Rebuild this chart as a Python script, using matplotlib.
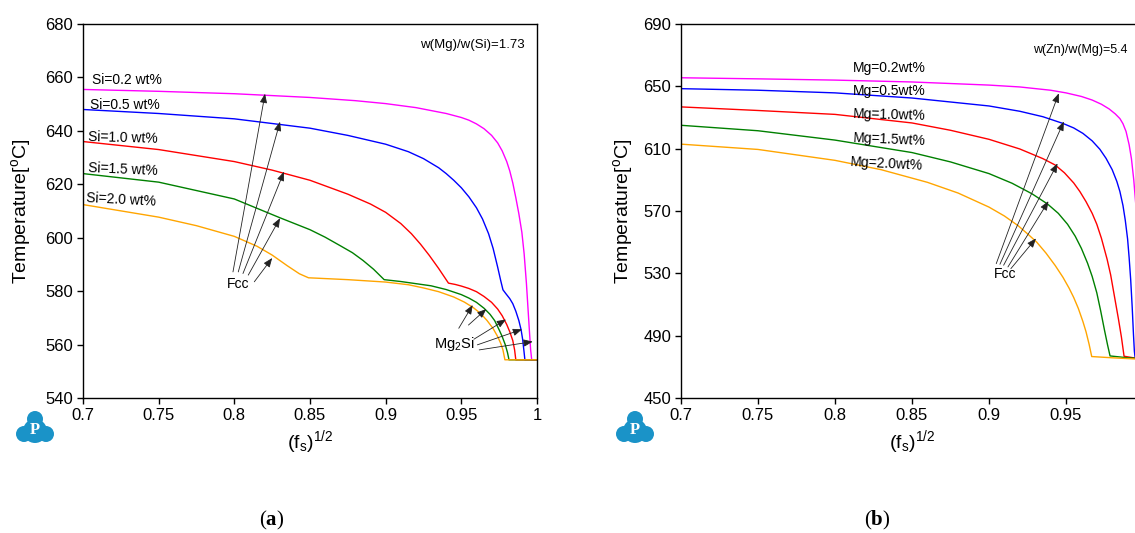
import matplotlib
matplotlib.use("Agg")
import matplotlib.pyplot as plt
from matplotlib.patches import Circle
from matplotlib.ticker import FormatStrFormatter

plt.rcParams['font.family'] = ['Liberation Sans', 'DejaVu Sans']
plt.rcParams['mathtext.default'] = 'regular'
plt.rcParams['mathtext.fontset'] = 'custom'
plt.rcParams['mathtext.bf'] = 'Liberation Serif:bold'

# ---- (a) Al-Mg-Si, w(Mg)/w(Si)=1.73 ----
a_si02_x = [0.70, 0.75, 0.80, 0.85, 0.88, 0.90, 0.92, 0.94, 0.95, 0.955, 0.96, 0.965, 0.97,
            0.974, 0.977, 0.980, 0.982, 0.984, 0.986, 0.988, 0.990, 0.9915, 0.993, 0.994,
            0.995, 0.9958, 0.9965, 1.0]
a_si02_y = [655.5, 654.8, 653.9, 652.5, 651.3, 650.2, 648.7, 646.5, 645.0, 644.0, 642.6, 640.8,
            638.3, 635.5, 632.5, 628.5, 625.0, 620.5, 615.0, 609.0, 602.0, 594.0, 583.0, 574.0,
            565.0, 558.0, 554.3, 554.3]

a_si05_x = [0.70, 0.75, 0.80, 0.85, 0.875, 0.90, 0.915, 0.925, 0.935, 0.94, 0.945, 0.95, 0.955,
            0.96, 0.964, 0.968, 0.971, 0.974, 0.976, 0.9775, 0.9795, 0.982, 0.984, 0.986,
            0.988, 0.9895, 0.9905, 0.9913, 0.992, 1.0]
a_si05_y = [648.0, 646.5, 644.5, 641.0, 638.3, 635.0, 632.2, 629.6, 626.2, 624.0, 621.5, 618.7,
            615.3, 611.2, 607.0, 601.5, 596.0, 589.0, 584.0, 580.5, 579.0, 577.2, 575.3, 572.5,
            569.0, 565.5, 562.0, 558.0, 554.3, 554.3]

a_si10_x = [0.70, 0.75, 0.80, 0.825, 0.85, 0.875, 0.89, 0.90, 0.91, 0.917, 0.923, 0.9288,
            0.935, 0.9415, 0.946, 0.95, 0.955, 0.96, 0.965, 0.97, 0.974, 0.977, 0.980, 0.982,
            0.984, 0.9852, 0.986, 1.0]
a_si10_y = [636.0, 633.0, 628.5, 625.3, 621.5, 616.3, 612.6, 609.5, 605.3, 601.5, 597.6, 593.4,
            588.5, 583.0, 582.5, 581.9, 581.0, 579.8, 578.0, 575.8, 573.3, 570.8, 567.5, 564.8,
            561.5, 558.0, 554.3, 554.3]

a_si15_x = [0.70, 0.75, 0.80, 0.83, 0.85, 0.86, 0.87, 0.878, 0.885, 0.892, 0.899, 0.91, 0.93,
            0.94, 0.95, 0.955, 0.96, 0.965, 0.969, 0.972, 0.975, 0.977, 0.979, 0.9805, 0.9815, 1.0]
a_si15_y = [624.0, 620.8, 614.5, 607.5, 603.0, 600.2, 597.0, 594.4, 591.5, 588.2, 584.3, 583.6,
            582.0, 580.6, 578.7, 577.4, 575.8, 573.6, 571.3, 569.0, 565.5, 563.0, 560.0, 557.0,
            554.3, 554.3]

a_si20_x = [0.70, 0.75, 0.775, 0.80, 0.815, 0.825, 0.835, 0.843, 0.849, 0.875, 0.90, 0.915,
            0.925, 0.935, 0.945, 0.952, 0.958, 0.963, 0.967, 0.971, 0.974, 0.976, 0.9775,
            0.9788, 1.0]
a_si20_y = [612.4, 607.7, 604.5, 600.5, 596.8, 593.5, 589.5, 586.5, 585.0, 584.3, 583.4, 582.4,
            581.2, 579.8, 577.8, 575.9, 573.8, 571.5, 569.0, 566.0, 563.0, 560.5, 558.0,
            554.3, 554.3]

a_labels = ['Si=0.2 wt%', 'Si=0.5 wt%', 'Si=1.0 wt%', 'Si=1.5 wt%', 'Si=2.0 wt%']
a_label_xy = [(0.7059, 658.9), (0.7045, 649.7), (0.7030, 637.5), (0.7030, 625.7), (0.7018, 614.2)]
a_fcc_tails = [(0.7991, 587.2), (0.8026, 587.2), (0.8057, 586.6), (0.8092, 586.0), (0.8132, 583.5)]
a_fcc_heads = [(0.8203, 653.9), (0.8302, 643.4), (0.8328, 624.7), (0.8302, 607.3), (0.8250, 592.4)]
a_mg2si_tails = [(0.9618, 558.0), (0.9606, 559.9), (0.9583, 562.0), (0.9547, 567.3), (0.9483, 566.1)]
a_mg2si_heads = [(0.9972, 561.1), (0.9901, 565.7), (0.9795, 569.4), (0.9665, 573.3), (0.9575, 574.8)]

# ---- (b) Al-Zn-Mg, w(Zn)/w(Mg)=5.4 ----
b_mg02_x = [0.70, 0.75, 0.80, 0.85, 0.90, 0.92, 0.94, 0.95, 0.96, 0.967, 0.973, 0.978, 0.982,
            0.985, 0.987, 0.989, 0.991, 0.9925, 0.994, 0.9955, 0.997, 0.998, 0.9988, 0.9992, 1.0]
b_mg02_y = [655.5, 654.8, 654.0, 652.8, 650.8, 649.6, 647.5, 645.8, 643.5, 641.2, 638.5, 635.5,
            632.3, 629.3, 626.0, 621.0, 612.5, 603.5, 590.0, 572.0, 545.0, 515.0, 485.0,
            476.5, 475.5]

b_mg05_x = [0.70, 0.75, 0.80, 0.85, 0.90, 0.92, 0.935, 0.948, 0.955, 0.961, 0.967, 0.972,
            0.976, 0.980, 0.983, 0.985, 0.987, 0.9885, 0.990, 0.991, 0.992, 0.993, 0.9938,
            0.9944, 0.9948, 1.0]
b_mg05_y = [648.5, 647.5, 645.8, 642.5, 637.4, 634.0, 630.5, 626.2, 623.3, 619.8, 615.0, 609.6,
            603.8, 596.5, 589.0, 582.5, 573.5, 564.0, 552.0, 540.0, 526.0, 508.0, 491.0,
            480.0, 476.5, 475.2]

b_mg10_x = [0.70, 0.75, 0.80, 0.85, 0.875, 0.90, 0.92, 0.935, 0.943, 0.949, 0.955, 0.959,
            0.963, 0.967, 0.970, 0.973, 0.9767, 0.979, 0.9815, 0.984, 0.986, 0.9877, 0.995, 1.0]
b_mg10_y = [636.8, 634.5, 632.0, 626.5, 621.8, 616.0, 609.8, 603.6, 599.5, 594.5, 588.0, 582.5,
            576.0, 568.5, 561.5, 552.5, 539.0, 529.0, 515.0, 501.0, 489.0, 476.8, 475.6, 475.3]

b_mg15_x = [0.70, 0.75, 0.80, 0.85, 0.875, 0.90, 0.915, 0.928, 0.938, 0.945, 0.951, 0.956,
            0.960, 0.964, 0.967, 0.970, 0.9725, 0.975, 0.977, 0.9786, 0.99, 1.0]
b_mg15_y = [625.0, 621.5, 615.5, 607.5, 601.5, 594.0, 587.8, 581.0, 574.5, 568.5, 561.5, 553.8,
            546.0, 536.5, 528.0, 517.5, 506.0, 493.5, 484.0, 477.0, 475.8, 475.3]

b_mg20_x = [0.70, 0.75, 0.80, 0.83, 0.86, 0.88, 0.90, 0.91, 0.919, 0.926, 0.931, 0.937, 0.943,
            0.948, 0.952, 0.955, 0.958, 0.961, 0.963, 0.965, 0.9667, 0.98, 1.0]
b_mg20_y = [612.9, 609.5, 602.5, 596.5, 588.4, 581.5, 572.5, 566.8, 560.5, 554.5, 550.0, 543.0,
            535.0, 527.5, 520.5, 514.5, 507.5, 499.0, 492.5, 484.5, 476.6, 475.8, 474.8]

b_labels = ['Mg=0.2wt%', 'Mg=0.5wt%', 'Mg=1.0wt%', 'Mg=1.5wt%', 'Mg=2.0wt%']
b_label_xy = [(0.8114, 661.5), (0.8114, 647.0), (0.8114, 631.6), (0.8114, 616.0), (0.8098, 600.1)]
b_fcc_tails = [(0.9047, 536.2), (0.9071, 535.8), (0.9095, 535.2), (0.9123, 534.1), (0.9142, 533.0)]
b_fcc_heads = [(0.9453, 645.5), (0.9486, 627.4), (0.9445, 600.5), (0.9386, 576.3), (0.9305, 552.4)]

colors = ['#ff00ff', '#0000ff', '#ff0000', '#008000', '#ffa500']
label_rot = [0, 0, -1.5, -2.5, -3]

W, H = 1135, 533
fig = plt.figure(figsize=(W / 100, H / 100), dpi=100)
ax1 = fig.add_axes([83 / W, 135 / H, 454 / W, 374 / H])
ax2 = fig.add_axes([681 / W, 135 / H, 462 / W, 374 / H])

arrow = dict(arrowstyle='-|>,head_length=0.55,head_width=0.22', lw=0.6,
             color='#222222', shrinkA=0, shrinkB=0)

a_curves = [(a_si02_x, a_si02_y), (a_si05_x, a_si05_y), (a_si10_x, a_si10_y),
            (a_si15_x, a_si15_y), (a_si20_x, a_si20_y)]
for (xs, ys), c in zip(a_curves, colors):
    ax1.plot(xs, ys, color=c, lw=1.0)
for txt, (x, y), r in zip(a_labels, a_label_xy, label_rot):
    ax1.text(x, y, txt, fontsize=10, ha='left', va='center', rotation=r)
ax1.text(0.992, 672.3, 'w(Mg)/w(Si)=1.73', fontsize=9.5, ha='right', va='center')
ax1.text(0.8026, 582.8, 'Fcc', fontsize=10, ha='center', va='center')
for t, h in zip(a_fcc_tails, a_fcc_heads):
    ax1.annotate('', xy=h, xytext=t, arrowprops=arrow)
ax1.text(0.9453, 560.4, 'Mg$_2$Si', fontsize=10.5, ha='center', va='center')
for t, h in zip(a_mg2si_tails, a_mg2si_heads):
    ax1.annotate('', xy=h, xytext=t, arrowprops=arrow)

b_curves = [(b_mg02_x, b_mg02_y), (b_mg05_x, b_mg05_y), (b_mg10_x, b_mg10_y),
            (b_mg15_x, b_mg15_y), (b_mg20_x, b_mg20_y)]
for (xs, ys), c in zip(b_curves, colors):
    ax2.plot(xs, ys, color=c, lw=1.0)
for txt, (x, y), r in zip(b_labels, b_label_xy, label_rot):
    ax2.text(x, y, txt, fontsize=10, ha='left', va='center', rotation=r)
ax2.text(0.9899, 673.6, 'w(Zn)/w(Mg)=5.4', fontsize=9, ha='right', va='center')
ax2.text(0.9106, 529.4, 'Fcc', fontsize=10, ha='center', va='center')
for t, h in zip(b_fcc_tails, b_fcc_heads):
    ax2.annotate('', xy=h, xytext=t, arrowprops=arrow)

ax1.set_xlim(0.7, 1.0)
ax1.set_ylim(540, 680)
ax1.set_yticks(range(540, 681, 20))
ax1.set_xticks([0.7, 0.75, 0.8, 0.85, 0.9, 0.95, 1.0])
ax2.set_xlim(0.7, 1.0)
ax2.set_ylim(450, 690)
ax2.set_yticks(range(450, 691, 40))
ax2.set_xticks([0.7, 0.75, 0.8, 0.85, 0.9, 0.95])

for ax, ylx in ((ax1, -0.110), (ax2, -0.0996)):
    ax.xaxis.set_major_formatter(FormatStrFormatter('%g'))
    ax.tick_params(direction='out', length=4, width=1, labelsize=12, pad=3,
                   top=False, right=False)
    for sp in ax.spines.values():
        sp.set_linewidth(1.0)
    ax.set_ylabel('Temperature[$^{o}$C]', fontsize=14)
    ax.yaxis.set_label_coords(ylx, 0.5)
    ax.set_xlabel('(f$_s$)$^{1/2}$', fontsize=14)
    ax.xaxis.set_label_coords(0.5, -0.080)


def add_logo(cx, cy):
    # small blue trefoil badge with a white P, position in pixels from top-left
    col = '#1a93c8'
    for dx, dy, r in [(0, -10, 8), (-11, 5, 8), (11, 5, 8), (0, 2, 12)]:
        fig.add_artist(Circle(((cx + dx) / 100, (H - (cy + dy)) / 100), r / 100,
                              transform=fig.dpi_scale_trans, color=col, lw=0))
    fig.text(cx / W, 1 - (cy + 1) / H, 'P', color='white', fontsize=12,
             fontweight='bold', family='Liberation Serif', ha='center', va='center')


add_logo(35, 429)
add_logo(635, 429)

fig.text(272 / W, 1 - 520 / H, r'($\mathbf{a}$)', family='Liberation Serif',
         fontsize=15, ha='center', va='center')
fig.text(877 / W, 1 - 520 / H, r'($\mathbf{b}$)', family='Liberation Serif',
         fontsize=15, ha='center', va='center')

fig.savefig('out.png', dpi=100)
